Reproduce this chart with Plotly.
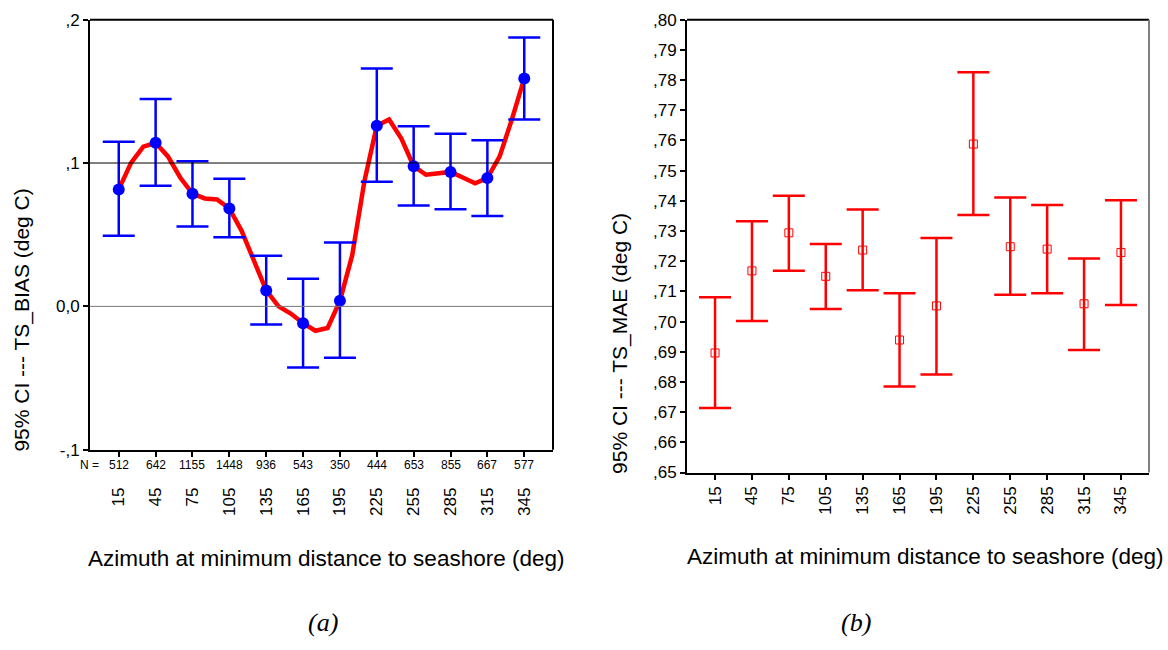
import plotly.graph_objects as go

W, H = 1168, 650

# ---------------- data ----------------
azimuth_labels = ["15", "45", "75", "105", "135", "165", "195", "225", "255", "285", "315", "345"]
n_counts = [512, 642, 1155, 1448, 936, 543, 350, 444, 653, 855, 667, 577]

bias_mean = [0.0816, 0.1141, 0.0786, 0.0683, 0.0111, -0.0117, 0.0039, 0.1260, 0.0978, 0.0938, 0.0895, 0.1590]
bias_upper = [0.1148, 0.1446, 0.1012, 0.0890, 0.0353, 0.0192, 0.0445, 0.1659, 0.1256, 0.1204, 0.1159, 0.1876]
bias_lower = [0.0493, 0.0841, 0.0558, 0.0483, -0.0127, -0.0427, -0.0359, 0.0870, 0.0703, 0.0678, 0.0631, 0.1304]

# smoothed curve of the bias, read at thirds of the category spacing
bias_curve = [0.0816, 0.1001, 0.1114, 0.1141, 0.1046, 0.0899, 0.0786, 0.0753, 0.0746,
              0.0683, 0.0527, 0.0323, 0.0111, 0.0000, -0.0050, -0.0117, -0.0170, -0.0151,
              0.0038, 0.0357, 0.0877, 0.1260, 0.1304, 0.1171, 0.0978, 0.0918, 0.0927,
              0.0938, 0.0899, 0.0859, 0.0895, 0.1046, 0.1306, 0.1590]

mae_mean = [0.6896, 0.7168, 0.7294, 0.7150, 0.7237, 0.6939, 0.7052, 0.7588, 0.7248, 0.7240, 0.7059, 0.7229]
mae_upper = [0.7081, 0.7332, 0.7417, 0.7257, 0.7371, 0.7094, 0.7277, 0.7826, 0.7411, 0.7386, 0.7209, 0.7402]
mae_lower = [0.6714, 0.7002, 0.7168, 0.7042, 0.7104, 0.6785, 0.6825, 0.7353, 0.7089, 0.7094, 0.6906, 0.7055]

bias_ticks = [-0.1, 0.0, 0.1, 0.2]
bias_ticktext = ["-,1", "0,0", ",1", ",2"]
mae_ticks = [0.65, 0.66, 0.67, 0.68, 0.69, 0.70, 0.71, 0.72, 0.73, 0.74, 0.75, 0.76, 0.77, 0.78, 0.79, 0.80]
mae_ticktext = [",65", ",66", ",67", ",68", ",69", ",70", ",71", ",72", ",73", ",74", ",75", ",76", ",77", ",78", ",79", ",80"]

# ---------------- layout helpers ----------------
def px_x(p):
    return p / W

def px_y(p):
    return 1 - p / H

FONT = "Arial, Liberation Sans, sans-serif"
BLUE = "#0000FF"
RED = "#FF0000"

xi = list(range(len(azimuth_labels)))
curve_x = [k / 3 for k in range(len(bias_curve))]

fig = go.Figure()

fig.add_trace(go.Scatter(
    x=curve_x, y=bias_curve, mode="lines",
    line=dict(color=RED, width=4.5), xaxis="x", yaxis="y",
    hoverinfo="skip", showlegend=False,
))
fig.add_trace(go.Scatter(
    x=xi, y=bias_mean, mode="markers",
    marker=dict(color=BLUE, size=12, symbol="circle"),
    error_y=dict(type="data", symmetric=False,
                 array=[u - m for u, m in zip(bias_upper, bias_mean)],
                 arrayminus=[m - l for m, l in zip(bias_mean, bias_lower)],
                 color=BLUE, thickness=2.5, width=16),
    xaxis="x", yaxis="y", showlegend=False,
))
fig.add_trace(go.Scatter(
    x=xi, y=mae_mean, mode="markers",
    marker=dict(color="rgba(0,0,0,0)", size=8, symbol="square",
                line=dict(color=RED, width=1)),
    error_y=dict(type="data", symmetric=False,
                 array=[u - m for u, m in zip(mae_upper, mae_mean)],
                 arrayminus=[m - l for m, l in zip(mae_mean, mae_lower)],
                 color=RED, thickness=2.5, width=16),
    xaxis="x2", yaxis="y2", showlegend=False,
))

L1, R1, T1, B1 = 90, 553, 11, 454
L2, R2, T2, B2 = 687, 1149, 11, 477.5
xr1 = [-0.78, 11.78]
xr2 = [-0.76, 11.76]

axis_common = dict(showgrid=False, zeroline=False, showline=True, linecolor="black",
                   linewidth=2, ticks="outside", tickcolor="black", tickwidth=2,
                   tickfont=dict(family=FONT, size=17, color="black"))

fig.update_layout(
    width=W, height=H, margin=dict(l=0, r=0, t=0, b=0),
    paper_bgcolor="white", plot_bgcolor="white",
    font=dict(family=FONT, color="black"),
    xaxis=dict(domain=[px_x(L1), px_x(R1)], range=xr1, anchor="y",
               tickvals=xi, ticktext=azimuth_labels, tickangle=-90, ticklen=5,
               ticklabelstandoff=24, **axis_common),
    yaxis=dict(domain=[px_y(B1), px_y(T1)], range=[-0.1, 0.2], anchor="x",
               tickvals=bias_ticks, ticktext=bias_ticktext, ticklen=5,
               **axis_common),
    xaxis2=dict(domain=[px_x(L2), px_x(R2)], range=xr2, anchor="y2",
                tickvals=xi, ticktext=azimuth_labels, tickangle=-90, ticklen=5,
                **axis_common),
    yaxis2=dict(domain=[px_y(B2), px_y(T2)], range=[0.65, 0.80], anchor="x2",
                tickvals=mae_ticks, ticktext=mae_ticktext, ticklen=5,
                **axis_common),
)

shapes = [
    dict(type="line", xref="x domain", yref="y", x0=0, x1=1, y0=0.1, y1=0.1,
         line=dict(color="black", width=1)),
    dict(type="line", xref="x domain", yref="y", x0=0, x1=1, y0=0.0, y1=0.0,
         line=dict(color="#777777", width=1)),
    dict(type="line", xref="paper", yref="paper", x0=px_x(L1), x1=px_x(R1), y0=px_y(T1), y1=px_y(T1),
         line=dict(color="black", width=2)),
    dict(type="line", xref="paper", yref="paper", x0=px_x(R1), x1=px_x(R1), y0=px_y(T1), y1=px_y(B1),
         line=dict(color="black", width=2)),
    dict(type="line", xref="paper", yref="paper", x0=px_x(L2), x1=px_x(R2), y0=px_y(T2), y1=px_y(T2),
         line=dict(color="black", width=2)),
    dict(type="line", xref="paper", yref="paper", x0=px_x(R2), x1=px_x(R2), y0=px_y(T2), y1=px_y(B2),
         line=dict(color="#808080", width=2)),
]
fig.update_layout(shapes=shapes)

ann = []
ann.append(dict(text="N =", x=px_x(101), y=px_y(470), xref="paper", yref="paper",
                xanchor="right", yanchor="middle", showarrow=False,
                font=dict(family=FONT, size=12)))
for i, n in enumerate(n_counts):
    ann.append(dict(text=str(n), x=i, y=px_y(470), xref="x", yref="paper",
                    xanchor="center", yanchor="middle", showarrow=False,
                    font=dict(family=FONT, size=12)))
ann.append(dict(text="95% CI --- TS_BIAS (deg C)", x=px_x(22), y=px_y(321),
                xref="paper", yref="paper", textangle=-90, showarrow=False,
                xanchor="center", yanchor="middle", font=dict(family=FONT, size=21)))
ann.append(dict(text="95% CI --- TS_MAE (deg C)", x=px_x(620), y=px_y(345),
                xref="paper", yref="paper", textangle=-90, showarrow=False,
                xanchor="center", yanchor="middle", font=dict(family=FONT, size=21)))
ann.append(dict(text="Azimuth at minimum distance to seashore (deg)", x=px_x(325.5), y=px_y(566),
                xref="paper", yref="paper", showarrow=False,
                xanchor="center", yanchor="middle", font=dict(family=FONT, size=22.5)))
ann.append(dict(text="Azimuth at minimum distance to seashore (deg)", x=px_x(924.5), y=px_y(564),
                xref="paper", yref="paper", showarrow=False,
                xanchor="center", yanchor="middle", font=dict(family=FONT, size=22.5)))
ann.append(dict(text="<i>(a)</i>", x=px_x(323), y=px_y(632), xref="paper", yref="paper",
                showarrow=False, xanchor="center", yanchor="middle",
                font=dict(family="Times New Roman, Liberation Serif, serif", size=26)))
ann.append(dict(text="<i>(b)</i>", x=px_x(856), y=px_y(632), xref="paper", yref="paper",
                showarrow=False, xanchor="center", yanchor="middle",
                font=dict(family="Times New Roman, Liberation Serif, serif", size=26)))
fig.update_layout(annotations=ann)

fig.write_html("out.html")
